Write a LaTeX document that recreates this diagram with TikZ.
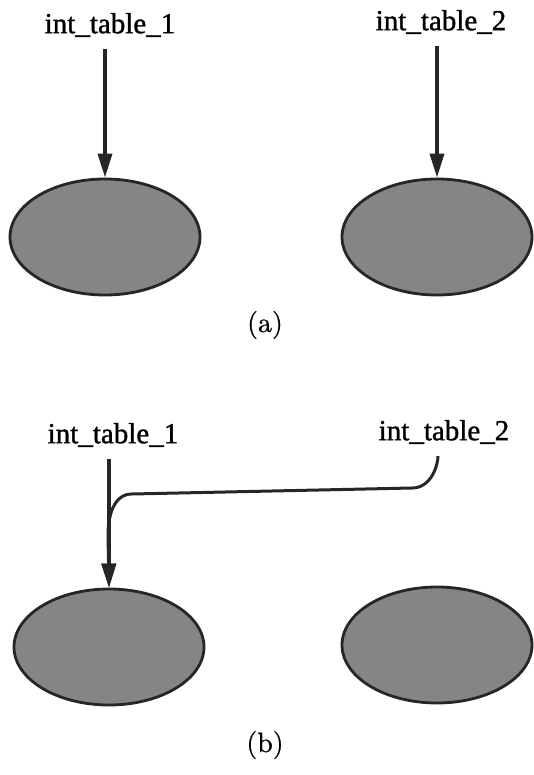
\documentclass[tikz,border=0pt]{standalone}
\usepackage{fontspec}
\setmainfont{Liberation Serif}
\usetikzlibrary{arrows.meta, shapes.geometric}
\newfontfamily\labfont[FakeBold=1.2]{Liberation Serif}
\newfontfamily\capfont[FakeBold=0.6]{lmroman10-regular.otf}
\tikzset{
    tablabel/.style={inner sep=0pt, font=\labfont\fontsize{29}{34}\selectfont},
    blob/.style={ellipse, draw=black!85, line width=2.8pt, fill=black!48,
        minimum width=190pt, minimum height=116pt, inner sep=0pt},
    ref/.style={line width=3.5pt, draw=black!85, shorten <=12pt,
        -{Triangle[length=24pt, width=14pt]}},
    caption/.style={font=\capfont\fontsize{28}{34}\selectfont}
}
\begin{document}
\begin{tikzpicture}[x=1pt, y=-1pt]
    \useasboundingbox (0,0) rectangle (533,775);
    \node[tablabel] (ta1) at (110,25) {int\_table\_1};
    \node[tablabel] (ta2) at (441,22) {int\_table\_2};
    \node[blob] (ea1) at (105,237) {};
    \node[blob] (ea2) at (437,237) {};
    \draw[ref] (ea1.north |- ta1.south) -- (ea1.north);
    \draw[ref] (ea2.north |- ta2.south) -- (ea2.north);
    \node[caption] (capa) at (265,325) {(a)};

    \node[tablabel] (tb1) at (113,435) {int\_table\_1};
    \node[tablabel] (tb2) at (444,432) {int\_table\_2};
    \node[blob] (eb1) at (109,647) {};
    \node[blob] (eb2) at (437,645) {};
    \coordinate (bendR) at (412,488);
    \coordinate (bendL) at (132,494);
    \coordinate (merge) at (108,535);
    \draw[ref] (eb1.north |- tb1.south) -- (eb1.north);
    \draw[ref, line width=3pt] (tb2.south -| 438,0) to[out=-90, in=0] (bendR)
        -- (bendL) to[out=180, in=90] (merge) -- (eb1.north);
    \node[caption] (capb) at (265,745) {(b)};
\end{tikzpicture}
\end{document}
